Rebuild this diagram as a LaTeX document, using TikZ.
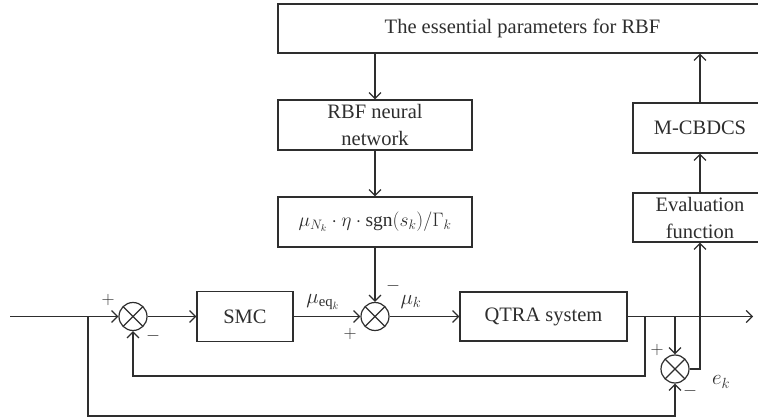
\documentclass[tikz,border=0pt]{standalone}
\usepackage{fix-cm}
\usepackage{fontspec}
\setmainfont{Liberation Serif}
\usetikzlibrary{arrows.meta}
\definecolor{ink}{HTML}{2E2E2E}
\begin{document}
\begin{tikzpicture}[x=1pt,y=-1pt,line width=1.2pt,
  box/.style={draw=ink,rectangle,inner sep=0pt,align=center,text=ink,
    font=\fontsize{20.5}{27}\selectfont},
  sumnode/.style={circle,draw=ink,minimum size=28pt,inner sep=0pt,
    path picture={\draw[ink,line width=1.2pt]
      (path picture bounding box.north west)--(path picture bounding box.south east)
      (path picture bounding box.north east)--(path picture bounding box.south west);}},
  arr/.style={draw=ink,-{Straight Barb[length=6pt,width=12pt,line width=1.2pt]}},
  lbl/.style={text=ink,inner sep=0pt,font=\fontsize{21}{24}\selectfont},
  sgn/.style={text=ink,inner sep=0pt,font=\fontsize{18}{22}\selectfont}]
\useasboundingbox (0,0) rectangle (758,419);
\clip (0,0) rectangle (758,419);
% boxes
\node[box,minimum width=489pt,minimum height=49pt] (top) at (522.5,28.5) {The essential parameters for RBF};
\node[box,minimum width=194pt,minimum height=50pt] (rbf) at (375,125) {RBF neural\\network};
\node[box,minimum width=194pt,minimum height=50pt,font=\fontsize{19.5}{24}\selectfont] (form) at (375,222) {$\mu_{N_k}\cdot\eta\cdot\mathrm{sgn}(s_k)/\Gamma_k$};
\node[box,minimum width=134pt,minimum height=50pt] (mcb) at (700,128) {M-CBDCS};
\node[box,minimum width=134pt,minimum height=49pt] (eval) at (700,217.5) {Evaluation\\function};
\node[box,minimum width=96pt,minimum height=50pt] (smc) at (245,316.5) {SMC};
\node[box,minimum width=167pt,minimum height=49pt] (qtra) at (543.5,316.5) {QTRA system};
% summing junctions
\node[sumnode] (s1) at (133,316.5) {};
\node[sumnode] (s2) at (375,316.5) {};
\node[sumnode] (s3) at (675,369) {};
% coordinates
\coordinate (in) at (10,316.5);
\coordinate (b1) at (88,316.5);
\coordinate (bl) at (88,416);
\coordinate (b2) at (645,316.5);
\coordinate (fb) at (645,376);
\coordinate (b3) at (675,316.5);
\coordinate (out) at (753,316.5);
% connectors
\draw[arr] (in) -- (s1);
\draw[arr] (b1) -- (bl) -| (s3.south);
\draw[arr] (s1) -- (smc);
\draw[arr] (smc) -- (s2);
\draw[arr] (form) -- (s2);
\draw[arr] (s2) -- (qtra);
\draw[arr] (qtra) -- (out);
\draw[arr] (b2) -- (fb) -| (s1.south);
\draw[arr] (b3) -- (s3);
\draw[arr] (s3.east) -| (eval.south);
\draw[arr] (eval) -- (mcb);
\draw[arr] (mcb) -- (mcb |- top.south);
\draw[arr] (top.south -| rbf) -- (rbf);
\draw[arr] (rbf) -- (form);
% labels
\node[sgn] (p1) at (108,300) {$+$};
\node[sgn] (m1) at (153,336) {$-$};
\node[lbl] (lmueq) at (323,302) {$\mu_{\mathrm{eq}_k}$};
\node[sgn] (m2) at (393,286) {$-$};
\node[lbl] (lmuk) at (411,302) {$\mu_k$};
\node[sgn] (p2) at (350,334) {$+$};
\node[sgn] (p3) at (657,350) {$+$};
\node[sgn] (m3) at (690,391) {$-$};
\node[lbl] (lek) at (721,382) {$e_k$};
\end{tikzpicture}
\end{document}
